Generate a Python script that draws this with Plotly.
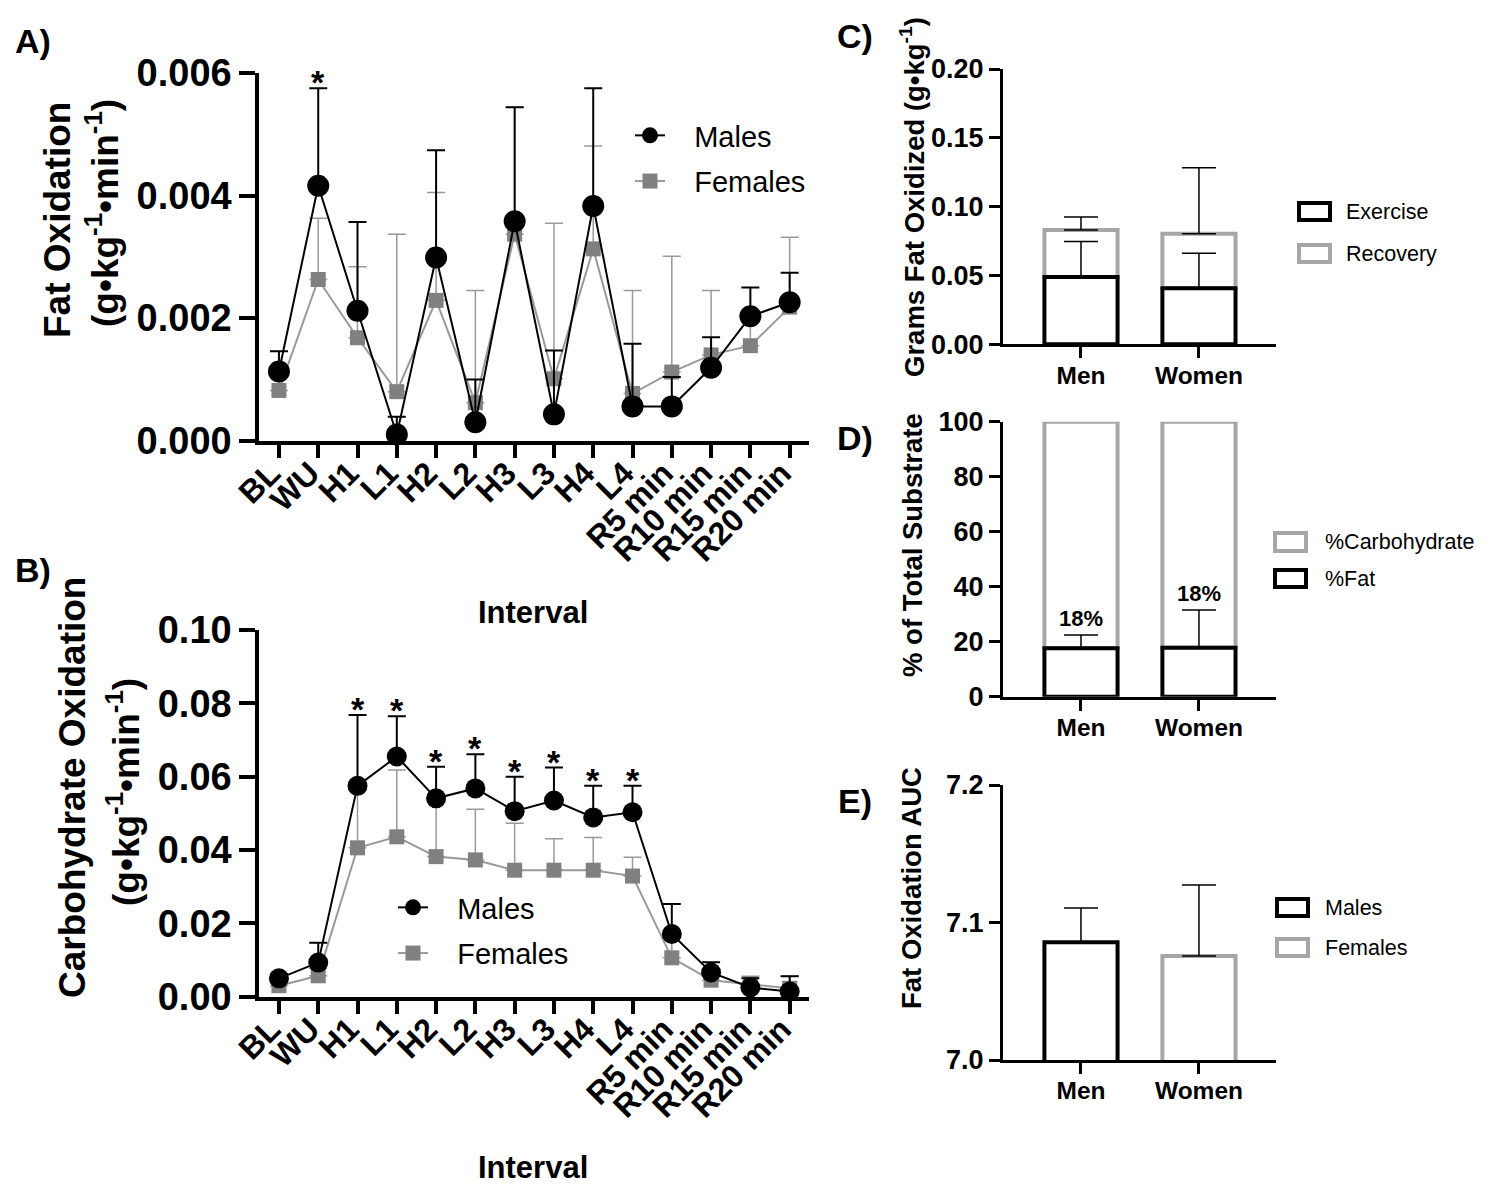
import plotly.graph_objects as go

# ---------------- data ----------------
intervals = ["BL", "WU", "H1", "L1", "H2", "L2", "H3", "L3", "H4", "L4",
             "R5 min", "R10 min", "R15 min", "R20 min"]

fat_males = [0.00113, 0.00416, 0.00212, 0.00010, 0.00299, 0.00030, 0.00358,
             0.00043, 0.00383, 0.00056, 0.00056, 0.00119, 0.00203, 0.00226]
fat_males_sd = [0.00033, 0.00159, 0.00145, 0.00029, 0.00175, 0.00070, 0.00186,
                0.00104, 0.00192, 0.00102, 0.00048, 0.00050, 0.00047, 0.00048]
fat_females = [0.00082, 0.00263, 0.00168, 0.00080, 0.00229, 0.00062, 0.00337,
               0.00101, 0.00313, 0.00077, 0.00112, 0.00140, 0.00155, 0.00218]
fat_females_sd = [0.00023, 0.00100, 0.00116, 0.00257, 0.00176, 0.00183, 0.00207,
                  0.00254, 0.00168, 0.00168, 0.00189, 0.00105, 0.00045, 0.00114]

cho_males = [0.0050, 0.0093, 0.0575, 0.0655, 0.0541, 0.0568, 0.0506,
             0.0535, 0.0489, 0.0503, 0.0171, 0.0066, 0.0025, 0.0014]
cho_males_sd = [0.0012, 0.0054, 0.0193, 0.0110, 0.0086, 0.0093, 0.0094,
                0.0090, 0.0086, 0.0072, 0.0082, 0.0028, 0.0025, 0.0042]
cho_females = [0.0030, 0.0057, 0.0406, 0.0436, 0.0382, 0.0373, 0.0345,
               0.0345, 0.0345, 0.0329, 0.0106, 0.0045, 0.0035, 0.0023]
cho_females_sd = [0.0008, 0.0020, 0.0159, 0.0182, 0.0148, 0.0138, 0.0128,
                  0.0086, 0.0089, 0.0051, 0.0054, 0.0015, 0.0021, 0.0033]

fat_sig = ["WU"]
cho_sig = ["H1", "L1", "H2", "L2", "H3", "L3", "H4", "L4"]

groups = ["Men", "Women"]
fat_exercise = [0.0489, 0.0407]
fat_exercise_sd = [0.0257, 0.0254]
fat_recovery = [0.0342, 0.0397]
fat_recovery_sd = [0.0094, 0.0479]

pct_fat = [17.6, 17.8]
pct_fat_sd = [4.8, 13.7]
pct_carb = [82.4, 82.2]
pct_fat_labels = ["18%", "18%"]

auc_values = [7.0856, 7.0756]
auc_sd = [0.0249, 0.0517]
auc_names = ["Males", "Females"]

# ---------------- styling ----------------
W, H = 1500, 1199
FONT = "Liberation Sans"
BLACK = "#000000"
GREY_MK = "#808080"
GREY_LN = "#999999"
GREY_BAR = "#a6a6a6"
PAD = "\u00a0\u00a0\u00a0"


def px(x):
    return x / W


def py(y):
    return 1 - y / H


fig = go.Figure()


def add_lines(xa, ya, males, males_sd, females, females_sd, legend, ms_m, ms_f):
    fig.add_trace(go.Scatter(
        x=intervals, y=females, name=PAD + "Females", mode="lines+markers",
        line=dict(color=GREY_LN, width=2),
        marker=dict(symbol="square", size=ms_f, color=GREY_MK),
        error_y=dict(type="data", symmetric=False, array=females_sd,
                     arrayminus=[0] * len(females_sd), color=GREY_LN,
                     thickness=1.5, width=9),
        xaxis=xa, yaxis=ya, legend=legend, legendrank=2,
        legendgroup=legend + "f", cliponaxis=False))
    fig.add_trace(go.Scatter(
        x=intervals, y=males, name=PAD + "Males", mode="lines+markers",
        line=dict(color=BLACK, width=2),
        marker=dict(symbol="circle", size=ms_m, color=BLACK),
        error_y=dict(type="data", symmetric=False, array=males_sd,
                     arrayminus=[0] * len(males_sd), color=BLACK,
                     thickness=2, width=9),
        xaxis=xa, yaxis=ya, legend=legend, legendrank=1,
        legendgroup=legend + "m", cliponaxis=False))


add_lines("x", "y", fat_males, fat_males_sd, fat_females, fat_females_sd, "legend", 22, 15)
add_lines("x2", "y2", cho_males, cho_males_sd, cho_females, cho_females_sd, "legend2", 20, 15)

BAR_W = 0.62
# Panel C: recovery stacked on exercise
fig.add_trace(go.Bar(
    x=groups, y=fat_recovery, base=fat_exercise, width=BAR_W, name="Recovery",
    marker=dict(color="white", line=dict(color=GREY_BAR, width=4)),
    error_y=dict(type="data", symmetric=False, array=fat_recovery_sd,
                 arrayminus=[0, 0], color=BLACK, thickness=1.5, width=17),
    xaxis="x3", yaxis="y3", showlegend=False, cliponaxis=False))
fig.add_trace(go.Bar(
    x=groups, y=fat_exercise, width=BAR_W, name="Exercise",
    marker=dict(color="white", line=dict(color=BLACK, width=4)),
    error_y=dict(type="data", symmetric=False, array=fat_exercise_sd,
                 arrayminus=[0, 0], color=BLACK, thickness=1.5, width=17),
    xaxis="x3", yaxis="y3", showlegend=False, cliponaxis=False))

# Panel D: % carbohydrate stacked on % fat
fig.add_trace(go.Bar(
    x=groups, y=pct_carb, base=pct_fat, width=BAR_W, name="%Carbohydrate",
    marker=dict(color="white", line=dict(color=GREY_BAR, width=4)),
    xaxis="x4", yaxis="y4", showlegend=False, cliponaxis=False))
fig.add_trace(go.Bar(
    x=groups, y=pct_fat, width=BAR_W, name="%Fat",
    marker=dict(color="white", line=dict(color=BLACK, width=4)),
    error_y=dict(type="data", symmetric=False, array=pct_fat_sd,
                 arrayminus=[0, 0], color=BLACK, thickness=1.5, width=17),
    xaxis="x4", yaxis="y4", showlegend=False, cliponaxis=False))

# Panel E: AUC
for i, nm in enumerate(auc_names):
    fig.add_trace(go.Bar(
        x=[groups[i]], y=[auc_values[i]], width=BAR_W, name=nm,
        marker=dict(color="white", line=dict(color=BLACK if i == 0 else GREY_BAR, width=4)),
        error_y=dict(type="data", symmetric=False, array=[auc_sd[i]],
                     arrayminus=[0], color=BLACK, thickness=1.5, width=17),
        xaxis="x5", yaxis="y5", showlegend=False))

# ---------------- axes ----------------
def big_axis(**kw):
    d = dict(showline=True, linecolor=BLACK, linewidth=4, ticks="outside",
             tickwidth=4, tickcolor=BLACK, showgrid=False, zeroline=False,
             automargin=False,
             tickfont=dict(family=FONT, size=38, color=BLACK, weight="bold"))
    d.update(kw)
    return d


def small_axis(**kw):
    d = dict(showline=True, linecolor=BLACK, linewidth=3, ticks="outside",
             ticklen=11, tickwidth=3, tickcolor=BLACK, showgrid=False, zeroline=False,
             automargin=False,
             tickfont=dict(family=FONT, size=27, color=BLACK, weight="bold"))
    d.update(kw)
    return d


xdomA = [px(259.3), px(809.3)]
xdomC = [px(1003), px(1276)]
bar_range = [-0.661, 1.653]
cat_font = dict(family=FONT, size=32, color=BLACK, weight="bold")
grp_font = dict(family=FONT, size=24.5, color=BLACK, weight="bold")
cat_kw = dict(type="category", range=[-0.5, 13.5], tickmode="linear", tick0=0, dtick=1,
              tickangle=-45, ticklen=13, tickfont=cat_font,
              ticklabelstandoff=-16, ticklabelshift=-8)
grp_kw = dict(type="category", range=bar_range, tickfont=grp_font, ticklabelstandoff=-4)

fig.update_layout(
    template="none",
    xaxis=big_axis(domain=xdomA, anchor="y", **cat_kw),
    yaxis=big_axis(domain=[py(440.7), py(73)], anchor="x", range=[0, 0.006],
                   tickvals=[0, 0.002, 0.004, 0.006], tickformat=".3f", ticklen=16),
    xaxis2=big_axis(domain=xdomA, anchor="y2", **cat_kw),
    yaxis2=big_axis(domain=[py(996.7), py(630)], anchor="x2", range=[0, 0.10],
                    dtick=0.02, tickformat=".2f", ticklen=16),
    xaxis3=small_axis(domain=xdomC, anchor="y3", **grp_kw),
    yaxis3=small_axis(domain=[py(344.3), py(69)], anchor="x3", range=[0, 0.20],
                      dtick=0.05, tickformat=".2f"),
    xaxis4=small_axis(domain=xdomC, anchor="y4", **grp_kw),
    yaxis4=small_axis(domain=[py(696.7), py(421.7)], anchor="x4", range=[0, 100],
                      dtick=20),
    xaxis5=small_axis(domain=xdomC, anchor="y5", **grp_kw),
    yaxis5=small_axis(domain=[py(1060), py(785)], anchor="x5", range=[7.0, 7.2],
                      dtick=0.1, tickformat=".1f"),
    barmode="overlay",
    width=W, height=H, autosize=False,
    margin=dict(l=0, r=0, t=0, b=0, pad=0),
    paper_bgcolor="white", plot_bgcolor="white",
    font=dict(family=FONT, color=BLACK),
    legend=dict(x=px(630), y=py(110), xanchor="left", yanchor="top",
                font=dict(family=FONT, size=29, color=BLACK), tracegroupgap=5,
                bgcolor="rgba(0,0,0,0)", borderwidth=0),
    legend2=dict(x=px(393), y=py(882), xanchor="left", yanchor="top",
                 font=dict(family=FONT, size=29, color=BLACK), tracegroupgap=5,
                 bgcolor="rgba(0,0,0,0)", borderwidth=0),
)

# ---------------- annotations ----------------
ann = []


def txt(x, y, text, size, bold=True, angle=0, xanchor="center", yanchor="middle"):
    ann.append(dict(x=px(x), y=py(y), xref="paper", yref="paper", text=text,
                    showarrow=False, textangle=angle, xanchor=xanchor, yanchor=yanchor,
                    font=dict(family=FONT, size=size, color=BLACK,
                              weight="bold" if bold else "normal")))


unit = "(g\u2022kg<sup>-1</sup>\u2022min<sup>-1</sup>)"
txt(33, 41, "A)", 34)
txt(33, 570, "B)", 34)
txt(855, 36, "C)", 34)
txt(855, 438, "D)", 34)
txt(855, 801, "E)", 34)
txt(57, 220, "Fat Oxidation", 37, angle=-90)
txt(103, 213, unit, 37, angle=-90)
txt(72, 788, "Carbohydrate Oxidation", 37, angle=-90)
txt(123, 792, unit, 37, angle=-90)
txt(533, 612, "Interval", 31)
txt(533, 1167, "Interval", 31)
txt(912, 197, "Grams Fat Oxidized (g\u2022kg<sup>-1</sup>)", 27.5, angle=-90)
txt(912, 545, "% of Total Substrate", 27.5, angle=-90)
txt(912, 888, "Fat Oxidation AUC", 27.5, angle=-90)

# significance asterisks
star_font = dict(family=FONT, size=34, color=BLACK, weight="bold")
for lab in fat_sig:
    i = intervals.index(lab)
    ann.append(dict(x=lab, y=fat_males[i] + fat_males_sd[i], xref="x", yref="y",
                    text="*", showarrow=False, yanchor="middle", yshift=6, font=star_font))
for lab in cho_sig:
    i = intervals.index(lab)
    ann.append(dict(x=lab, y=cho_males[i] + cho_males_sd[i], xref="x2", yref="y2",
                    text="*", showarrow=False, yanchor="middle", yshift=6, font=star_font))

# percentage labels in D
for i, g in enumerate(groups):
    ann.append(dict(x=g, y=pct_fat[i] + pct_fat_sd[i], xref="x4", yref="y4",
                    text=pct_fat_labels[i], showarrow=False, yanchor="bottom", yshift=2,
                    font=dict(family=FONT, size=22, color=BLACK, weight="bold")))

# legend keys for bar panels
shapes = []


def key(x0, y0, x1, y1, color, label, tx):
    shapes.append(dict(type="rect", xref="paper", yref="paper",
                       x0=px(x0), x1=px(x1), y0=py(y1), y1=py(y0),
                       line=dict(color=color, width=4), fillcolor="white"))
    txt(tx, (y0 + y1) / 2, label, 21.5, bold=False, xanchor="left")


key(1299, 203, 1330, 220, BLACK, "Exercise", 1344)
key(1299, 245, 1330, 262, GREY_BAR, "Recovery", 1344)
key(1275, 533, 1306, 551, GREY_BAR, "%Carbohydrate", 1323)
key(1275, 570, 1306, 587, BLACK, "%Fat", 1323)
key(1277, 899, 1308, 916, BLACK, auc_names[0], 1323)
key(1277, 939, 1308, 956, GREY_BAR, auc_names[1], 1323)

fig.update_layout(annotations=ann, shapes=shapes)

fig.write_html("out.html", config={"displayModeBar": False},
               post_script="document.body.style.margin='0px';document.body.style.overflow='hidden';")
